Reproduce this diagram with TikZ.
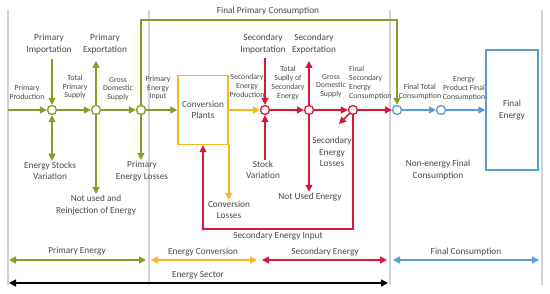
\documentclass[tikz,border=0pt]{standalone}
\usepackage{fontspec}
\setmainfont{Carlito}
\usepackage{xcolor}
\usepackage{tikz}
\usetikzlibrary{arrows.meta, positioning, calc}
\definecolor{mygreen}{RGB}{140,155,40}
\definecolor{myamber}{RGB}{246,184,30}
\definecolor{myred}{RGB}{214,24,58}
\definecolor{myblue}{RGB}{92,155,214}
\definecolor{mygrid}{RGB}{206,211,224}
\definecolor{mytext}{RGB}{72,72,72}
\tikzset{
  lbl/.style={font=\fontsize{9.3}{11.6}\selectfont, text=mytext, align=center, inner sep=1pt},
  slbl/.style={font=\fontsize{7.8}{8.9}\selectfont, text=mytext, align=center, inner sep=1pt},
  gjunc/.style={circle, draw=mygreen, fill=white, minimum size=9pt, inner sep=0pt, line width=1.3pt},
  rjunc/.style={circle, draw=myred, fill=white, minimum size=9pt, inner sep=0pt, line width=1.3pt},
  bjunc/.style={circle, draw=myblue, fill=white, minimum size=9pt, inner sep=0pt, line width=1.3pt},
  procbox/.style={rectangle, line width=1.5pt, inner sep=0pt, align=center,
    font=\fontsize{9.3}{11.6}\selectfont, text=mytext},
  tip/.style={-{Triangle[length=7pt,width=7pt]}},
  garrow/.style={tip, line width=1.5pt, color=mygreen},
  yarrow/.style={tip, line width=1.5pt, color=myamber},
  rarrow/.style={tip, line width=1.5pt, color=myred},
  barrow/.style={tip, line width=1.5pt, color=myblue},
  span/.style={{Triangle[length=7pt,width=7pt]}-{Triangle[length=7pt,width=7pt]}, line width=1.5pt},
  gridline/.style={line width=1.2pt, color=mygrid}
}
\begin{document}
\begin{tikzpicture}[x=1pt, y=-1pt]
  \useasboundingbox (0,0) rectangle (550,294);
  % ── grid lines ──────────────────────────────────────────────────────────
  \coordinate (g1) at (8,0);
  \coordinate (g2) at (149,0);
  \coordinate (g3) at (390,0);
  \coordinate (g4) at (542,0);
  \coordinate (gtop) at (0,10);
  \coordinate (gbot) at (0,285);
  \foreach \g in {g1,g2,g3,g4}
    \draw[gridline] (\g |- gtop) -- (\g |- gbot);
  % ── primary energy ──────────────────────────────────────────────────────
  \coordinate (pstart) at (8,110);
  \node[gjunc] (c1) at (52,110) {};
  \node[gjunc] (c2) at (96,110) {};
  \node[gjunc] (c3) at (141,110) {};
  \node[slbl] (prod) at (27,92) {Primary\\Production};
  \node[slbl] (tps) at (75,87) {Total\\Primary\\Supply};
  \node[slbl] (gds) at (118,89) {Gross\\Domestic\\Supply};
  \node[slbl] (pei) at (158,88) {Primary\\Energy\\Input};
  \node[lbl] (imp) at (49,44) {Primary\\Importation};
  \node[lbl] (exp) at (105,44) {Primary\\Exportation};
  \node[lbl] (stocks) at (50,171) {Energy Stocks\\Variation};
  \node[lbl] (reinj) at (96,205) {Not used and\\Reinjection of Energy};
  \node[lbl] (plosses) at (142,171) {Primary\\Energy Losses};
  \draw[garrow] (pstart) -- (c1);
  \draw[garrow] (c1) -- (c2);
  \draw[garrow] (c2) -- (c3);
  \draw[garrow, shorten <=4pt] (c1 |- imp.south) -- (c1);
  \draw[garrow] (c2) -- ([yshift=-6pt]c2 |- exp.south);
  \draw[span, color=mygreen] (c1) -- (c1 |- stocks.north);
  \draw[garrow] (c2) -- (c2 |- reinj.north);
  \draw[garrow] (c3) -- (c3 |- plosses.north);
  % final primary consumption (loop over the top)
  \coordinate (fpc) at (268,20);
  \node[lbl] (fpclbl) at (268,11) {Final Primary Consumption};
  % ── conversion ──────────────────────────────────────────────────────────
  \node[procbox, draw=myamber, minimum width=50pt, minimum height=69pt] (conv) at (203,110) {Conversion\\Plants};
  \node[slbl] (spe) at (247,86) {Secondary\\Energy\\Production};
  \node[lbl] (closs) at (229,210) {Conversion\\Losses};
  \draw[garrow] (c3) -- (conv.west);
  \draw[yarrow] (conv.south east) -- (conv.south east |- closs.north);
  % ── secondary energy ────────────────────────────────────────────────────
  \node[rjunc] (r1) at (265,110) {};
  \node[rjunc] (r2) at (309,110) {};
  \node[rjunc] (r3) at (353,110) {};
  \draw[yarrow] (conv.east) -- (r1);
  \node[lbl] (simp) at (263,44) {Secondary\\Importation};
  \node[lbl] (sexp) at (314,44) {Secondary\\Exportation};
  \node[lbl] (svar) at (263,170) {Stock\\Variation};
  \node[lbl] (nue) at (310,197) {Not Used Energy};
  \node[lbl] (sloss) at (332,152) {Secondary\\Energy\\Losses};
  \node[slbl] (tss) at (288,83) {Total\\Suplly of\\Secondary\\Energy};
  \node[slbl] (sgds) at (331,86) {Gross\\Domestic\\Supply};
  \node[slbl, anchor=west, align=left] (fsec) at (348,83) {Final\\Secondary\\Energy\\Consumption};
  \node[lbl] (seilbl) at (278,236) {Secondary Energy Input};
  \coordinate (slossend) at (339,124);
  \coordinate (sei) at (278,229);
  \draw[rarrow] (r1) -- (r2);
  \draw[rarrow] (r2) -- (r3);
  \draw[rarrow, shorten <=3pt] (r1 |- simp.south) -- (r1);
  \draw[rarrow] (r2) -- ([yshift=-6pt]r2 |- sexp.south);
  \draw[rarrow] (r1 |- svar.north) -- (r1);
  \draw[rarrow] (r2) -- (r2 |- nue.north);
  \draw[rarrow] (r3) -- (slossend);
  \draw[rarrow] (r3) |- (sei) -| (conv.south);
  % ── final consumption ───────────────────────────────────────────────────
  \node[bjunc] (b1) at (397,110) {};
  \node[bjunc] (b2) at (441,110) {};
  \node[procbox, draw=myblue, minimum width=52pt, minimum height=120pt] (final) at (512,110) {Final\\Energy};
  \node[slbl] (ftc) at (420,92) {Final Total\\Consumption};
  \node[slbl] (epfc) at (464,89) {Energy\\Product Final\\Consumption};
  \node[lbl] (nefc) at (438,170) {Non-energy Final\\Consumption};
  \draw[rarrow] (r3) -- (b1);
  \draw[barrow] (b1) -- (b2);
  \draw[barrow] (b2) -- (final.west);
  \draw[garrow] (c3) |- (fpc) -| (b1);
  % ── sector spans ────────────────────────────────────────────────────────
  \coordinate (lane1) at (0,260);
  \coordinate (lane2) at (0,283);
  \draw[span, color=mygreen] ([xshift=1pt]g1 |- lane1) -- ([xshift=-3pt]g2 |- lane1);
  \draw[span, color=myamber] ([xshift=2pt]g2 |- lane1) -- (257,260);
  \draw[span, color=myred] (262,260) -- ([xshift=-3pt]g3 |- lane1);
  \draw[span, color=myblue] ([xshift=3pt]g3 |- lane1) -- ([xshift=-3pt]g4 |- lane1);
  \draw[span, color=black] ([xshift=1pt]g1 |- lane2) -- ([xshift=-2pt]g3 |- lane2);
  \node[lbl] (pelbl) at (77,251) {Primary Energy};
  \node[lbl] (eclbl) at (203,252) {Energy Conversion};
  \node[lbl] (selbl) at (325,252) {Secondary Energy};
  \node[lbl] (fclbl) at (466,252) {Final Consumption};
  \node[lbl] (eslbl) at (198,275) {Energy Sector};
\end{tikzpicture}
\end{document}
